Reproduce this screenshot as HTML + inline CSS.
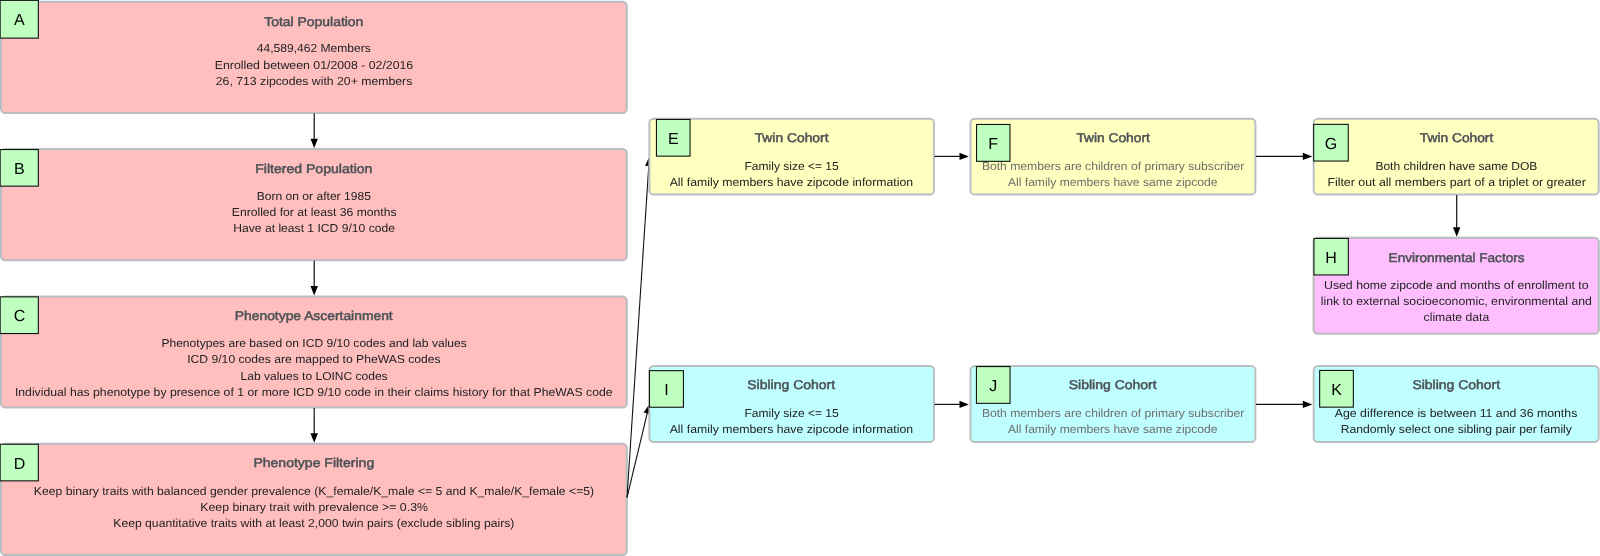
<!DOCTYPE html>
<html><head><meta charset="utf-8"><title>Cohort flow</title>
<style>
html,body{margin:0;padding:0;background:#fff;overflow:hidden}
svg{display:block;will-change:transform;text-rendering:geometricPrecision;font-family:"Liberation Sans",sans-serif}
</style></head><body>
<svg width="1600" height="556" viewBox="0 0 1600 556">
<rect x="1.00" y="1.70" width="625.80" height="111.20" rx="4.2" fill="#ffbfbf" stroke="#b7bec2" stroke-width="2"/>
<rect x="1.00" y="149.05" width="625.80" height="111.20" rx="4.2" fill="#ffbfbf" stroke="#b7bec2" stroke-width="2"/>
<rect x="1.00" y="296.40" width="625.80" height="111.20" rx="4.2" fill="#ffbfbf" stroke="#b7bec2" stroke-width="2"/>
<rect x="1.00" y="443.75" width="625.80" height="111.20" rx="4.2" fill="#ffbfbf" stroke="#b7bec2" stroke-width="2"/>
<line x1="314.20" y1="113.40" x2="314.20" y2="139.65" stroke="#111" stroke-width="1.2"/>
<polygon points="314.20,148.05 310.50,138.65 317.90,138.65" fill="#000"/>
<line x1="314.20" y1="260.75" x2="314.20" y2="287.00" stroke="#111" stroke-width="1.2"/>
<polygon points="314.20,295.40 310.50,286.00 317.90,286.00" fill="#000"/>
<line x1="314.20" y1="408.10" x2="314.20" y2="434.35" stroke="#111" stroke-width="1.2"/>
<polygon points="314.20,442.75 310.50,433.35 317.90,433.35" fill="#000"/>
<text x="264.20" y="25.70" stroke="#4c5256" stroke-width="0.5" font-size="12.7" fill="#4c5256" textLength="99.20" lengthAdjust="spacingAndGlyphs">Total Population</text>
<text x="256.70" y="52.40" font-size="11.6" fill="#222222" textLength="114.20" lengthAdjust="spacingAndGlyphs">44,589,462 Members</text>
<text x="214.80" y="68.80" font-size="11.6" fill="#222222" textLength="198.40" lengthAdjust="spacingAndGlyphs">Enrolled between 01/2008 - 02/2016</text>
<text x="215.80" y="85.10" font-size="11.6" fill="#222222" textLength="196.50" lengthAdjust="spacingAndGlyphs">26, 713 zipcodes with 20+ members</text>
<text x="255.20" y="172.50" stroke="#4c5256" stroke-width="0.5" font-size="12.7" fill="#4c5256" textLength="117.20" lengthAdjust="spacingAndGlyphs">Filtered Population</text>
<text x="256.70" y="199.80" font-size="11.6" fill="#222222" textLength="114.20" lengthAdjust="spacingAndGlyphs">Born on or after 1985</text>
<text x="231.80" y="216.10" font-size="11.6" fill="#222222" textLength="164.70" lengthAdjust="spacingAndGlyphs">Enrolled for at least 36 months</text>
<text x="233.30" y="232.40" font-size="11.6" fill="#222222" textLength="161.60" lengthAdjust="spacingAndGlyphs">Have at least 1 ICD 9/10 code</text>
<text x="234.80" y="319.80" stroke="#4c5256" stroke-width="0.5" font-size="12.7" fill="#4c5256" textLength="157.90" lengthAdjust="spacingAndGlyphs">Phenotype Ascertainment</text>
<text x="161.40" y="347.10" font-size="11.6" fill="#222222" textLength="305.40" lengthAdjust="spacingAndGlyphs">Phenotypes are based on ICD 9/10 codes and lab values</text>
<text x="187.20" y="363.40" font-size="11.6" fill="#222222" textLength="253.50" lengthAdjust="spacingAndGlyphs">ICD 9/10 codes are mapped to PheWAS codes</text>
<text x="240.60" y="379.70" font-size="11.6" fill="#222222" textLength="147.00" lengthAdjust="spacingAndGlyphs">Lab values to LOINC codes</text>
<text x="14.90" y="396.00" font-size="11.6" fill="#222222" textLength="597.70" lengthAdjust="spacingAndGlyphs">Individual has phenotype by presence of 1 or more ICD 9/10 code in their claims history for that PheWAS code</text>
<text x="253.40" y="466.90" stroke="#4c5256" stroke-width="0.5" font-size="12.7" fill="#4c5256" textLength="120.80" lengthAdjust="spacingAndGlyphs">Phenotype Filtering</text>
<text x="33.80" y="494.70" font-size="11.6" fill="#222222" textLength="560.30" lengthAdjust="spacingAndGlyphs">Keep binary traits with balanced gender prevalence (K_female/K_male &lt;= 5 and K_male/K_female &lt;=5)</text>
<text x="200.30" y="511.00" font-size="11.6" fill="#222222" textLength="227.60" lengthAdjust="spacingAndGlyphs">Keep binary trait with prevalence &gt;= 0.3%</text>
<text x="113.30" y="527.30" font-size="11.6" fill="#222222" textLength="401.10" lengthAdjust="spacingAndGlyphs">Keep quantitative traits with at least 2,000 twin pairs (exclude sibling pairs)</text>
<line x1="627.00" y1="497.50" x2="648.85" y2="164.98" stroke="#111" stroke-width="1.1"/>
<polygon points="649.40,156.60 652.48,166.22 645.09,165.74" fill="#000"/>
<line x1="627.00" y1="497.50" x2="647.44" y2="412.47" stroke="#111" stroke-width="1.1"/>
<polygon points="649.40,404.30 650.80,414.30 643.61,412.58" fill="#000"/>
<rect x="649.40" y="118.70" width="284.60" height="75.90" rx="4.2" fill="#ffffbf" stroke="#b8bfc6" stroke-width="2"/>
<rect x="649.40" y="366.05" width="284.60" height="75.90" rx="4.2" fill="#bfffff" stroke="#bcc0c2" stroke-width="2"/>
<rect x="970.50" y="118.70" width="284.90" height="75.90" rx="4.2" fill="#ffffbf" stroke="#b8bfc6" stroke-width="2"/>
<rect x="970.50" y="366.05" width="284.90" height="75.90" rx="4.2" fill="#bfffff" stroke="#bcc0c2" stroke-width="2"/>
<rect x="1313.70" y="118.70" width="285.00" height="75.90" rx="4.2" fill="#ffffbf" stroke="#b8bfc6" stroke-width="2"/>
<rect x="1313.70" y="366.05" width="285.00" height="75.90" rx="4.2" fill="#bfffff" stroke="#bcc0c2" stroke-width="2"/>
<rect x="1313.60" y="237.85" width="285.20" height="96.00" rx="4.2" fill="#ffbfff" stroke="#b5bcbb" stroke-width="2"/>
<text x="754.70" y="142.00" stroke="#4c5256" stroke-width="0.5" font-size="12.7" fill="#4c5256" textLength="73.80" lengthAdjust="spacingAndGlyphs">Twin Cohort</text>
<text x="744.50" y="170.10" font-size="11.6" fill="#222222" textLength="94.20" lengthAdjust="spacingAndGlyphs">Family size &lt;= 15</text>
<text x="669.70" y="186.10" font-size="11.6" fill="#222222" textLength="243.40" lengthAdjust="spacingAndGlyphs">All family members have zipcode information</text>
<text x="1076.40" y="142.00" stroke="#4c5256" stroke-width="0.5" font-size="12.7" fill="#4c5256" textLength="73.40" lengthAdjust="spacingAndGlyphs">Twin Cohort</text>
<text x="981.90" y="170.10" font-size="11.6" fill="#6e6e6c" textLength="262.40" lengthAdjust="spacingAndGlyphs">Both members are children of primary subscriber</text>
<text x="1008.00" y="186.10" font-size="11.6" fill="#6e6e6c" textLength="209.50" lengthAdjust="spacingAndGlyphs">All family members have same zipcode</text>
<text x="1419.80" y="142.00" stroke="#4c5256" stroke-width="0.5" font-size="12.7" fill="#4c5256" textLength="73.50" lengthAdjust="spacingAndGlyphs">Twin Cohort</text>
<text x="1375.40" y="170.10" font-size="11.6" fill="#222222" textLength="161.90" lengthAdjust="spacingAndGlyphs">Both children have same DOB</text>
<text x="1327.40" y="186.10" font-size="11.6" fill="#222222" textLength="258.40" lengthAdjust="spacingAndGlyphs">Filter out all members part of a triplet or greater</text>
<text x="1388.60" y="261.90" stroke="#4c5256" stroke-width="0.5" font-size="12.7" fill="#4c5256" textLength="136.00" lengthAdjust="spacingAndGlyphs">Environmental Factors</text>
<text x="1324.00" y="289.10" font-size="11.6" fill="#222222" textLength="264.60" lengthAdjust="spacingAndGlyphs">Used home zipcode and months of enrollment to</text>
<text x="1320.80" y="305.00" font-size="11.6" fill="#222222" textLength="271.10" lengthAdjust="spacingAndGlyphs">link to external socioeconomic, environmental and</text>
<text x="1423.60" y="320.80" font-size="11.6" fill="#222222" textLength="65.60" lengthAdjust="spacingAndGlyphs">climate data</text>
<text x="747.30" y="389.10" stroke="#4c5256" stroke-width="0.5" font-size="12.7" fill="#4c5256" textLength="87.80" lengthAdjust="spacingAndGlyphs">Sibling Cohort</text>
<text x="744.50" y="417.20" font-size="11.6" fill="#222222" textLength="94.20" lengthAdjust="spacingAndGlyphs">Family size &lt;= 15</text>
<text x="669.70" y="433.20" font-size="11.6" fill="#222222" textLength="243.40" lengthAdjust="spacingAndGlyphs">All family members have zipcode information</text>
<text x="1068.80" y="389.10" stroke="#4c5256" stroke-width="0.5" font-size="12.7" fill="#4c5256" textLength="87.80" lengthAdjust="spacingAndGlyphs">Sibling Cohort</text>
<text x="981.90" y="417.20" font-size="11.6" fill="#6e6e6c" textLength="262.40" lengthAdjust="spacingAndGlyphs">Both members are children of primary subscriber</text>
<text x="1008.00" y="433.20" font-size="11.6" fill="#6e6e6c" textLength="209.50" lengthAdjust="spacingAndGlyphs">All family members have same zipcode</text>
<text x="1412.40" y="389.10" stroke="#4c5256" stroke-width="0.5" font-size="12.7" fill="#4c5256" textLength="87.70" lengthAdjust="spacingAndGlyphs">Sibling Cohort</text>
<text x="1334.80" y="417.20" font-size="11.6" fill="#222222" textLength="242.50" lengthAdjust="spacingAndGlyphs">Age difference is between 11 and 36 months</text>
<text x="1340.70" y="433.20" font-size="11.6" fill="#222222" textLength="231.20" lengthAdjust="spacingAndGlyphs">Randomly select one sibling pair per family</text>
<line x1="934.50" y1="156.40" x2="960.50" y2="156.40" stroke="#111" stroke-width="1.2"/>
<polygon points="968.90,156.40 959.50,160.10 959.50,152.70" fill="#000"/>
<line x1="1256.00" y1="156.40" x2="1303.80" y2="156.40" stroke="#111" stroke-width="1.2"/>
<polygon points="1312.20,156.40 1302.80,160.10 1302.80,152.70" fill="#000"/>
<line x1="934.50" y1="404.40" x2="960.50" y2="404.40" stroke="#111" stroke-width="1.2"/>
<polygon points="968.90,404.40 959.50,408.10 959.50,400.70" fill="#000"/>
<line x1="1256.00" y1="404.40" x2="1303.80" y2="404.40" stroke="#111" stroke-width="1.2"/>
<polygon points="1312.20,404.40 1302.80,408.10 1302.80,400.70" fill="#000"/>
<line x1="1456.70" y1="195.00" x2="1456.70" y2="228.30" stroke="#111" stroke-width="1.2"/>
<polygon points="1456.70,236.70 1453.00,227.30 1460.40,227.30" fill="#000"/>
<rect x="0.15" y="0.35" width="38.20" height="37.80" rx="0" fill="#bfffbf" stroke="#111" stroke-width="1.1"/>
<text x="19.45" y="25.45" font-size="16" fill="#000" text-anchor="middle">A</text>
<rect x="0.15" y="149.55" width="38.20" height="36.60" rx="0" fill="#bfffbf" stroke="#111" stroke-width="1.1"/>
<text x="19.45" y="173.85" font-size="16" fill="#000" text-anchor="middle">B</text>
<rect x="0.15" y="296.85" width="38.20" height="36.70" rx="0" fill="#bfffbf" stroke="#111" stroke-width="1.1"/>
<text x="19.45" y="321.20" font-size="16" fill="#000" text-anchor="middle">C</text>
<rect x="0.15" y="444.25" width="38.20" height="36.60" rx="0" fill="#bfffbf" stroke="#111" stroke-width="1.1"/>
<text x="19.45" y="468.55" font-size="16" fill="#000" text-anchor="middle">D</text>
<rect x="656.45" y="119.45" width="33.60" height="36.70" rx="0" fill="#bfffbf" stroke="#111" stroke-width="1.1"/>
<text x="673.25" y="143.80" font-size="16" fill="#000" text-anchor="middle">E</text>
<rect x="976.55" y="124.45" width="33.40" height="36.90" rx="0" fill="#bfffbf" stroke="#111" stroke-width="1.1"/>
<text x="993.25" y="148.90" font-size="16" fill="#000" text-anchor="middle">F</text>
<rect x="1313.65" y="124.35" width="34.60" height="36.70" rx="0" fill="#bfffbf" stroke="#111" stroke-width="1.1"/>
<text x="1330.95" y="148.70" font-size="16" fill="#000" text-anchor="middle">G</text>
<rect x="1313.95" y="238.45" width="34.40" height="36.50" rx="0" fill="#bfffbf" stroke="#111" stroke-width="1.1"/>
<text x="1331.15" y="262.70" font-size="16" fill="#000" text-anchor="middle">H</text>
<rect x="649.45" y="370.65" width="34.00" height="36.60" rx="0" fill="#bfffbf" stroke="#111" stroke-width="1.1"/>
<text x="666.45" y="394.95" font-size="16" fill="#000" text-anchor="middle">I</text>
<rect x="976.45" y="366.55" width="33.60" height="36.80" rx="0" fill="#bfffbf" stroke="#111" stroke-width="1.1"/>
<text x="993.25" y="390.95" font-size="16" fill="#000" text-anchor="middle">J</text>
<rect x="1319.65" y="370.45" width="33.70" height="36.70" rx="0" fill="#bfffbf" stroke="#111" stroke-width="1.1"/>
<text x="1336.50" y="394.80" font-size="16" fill="#000" text-anchor="middle">K</text>
</svg>
</body></html>
